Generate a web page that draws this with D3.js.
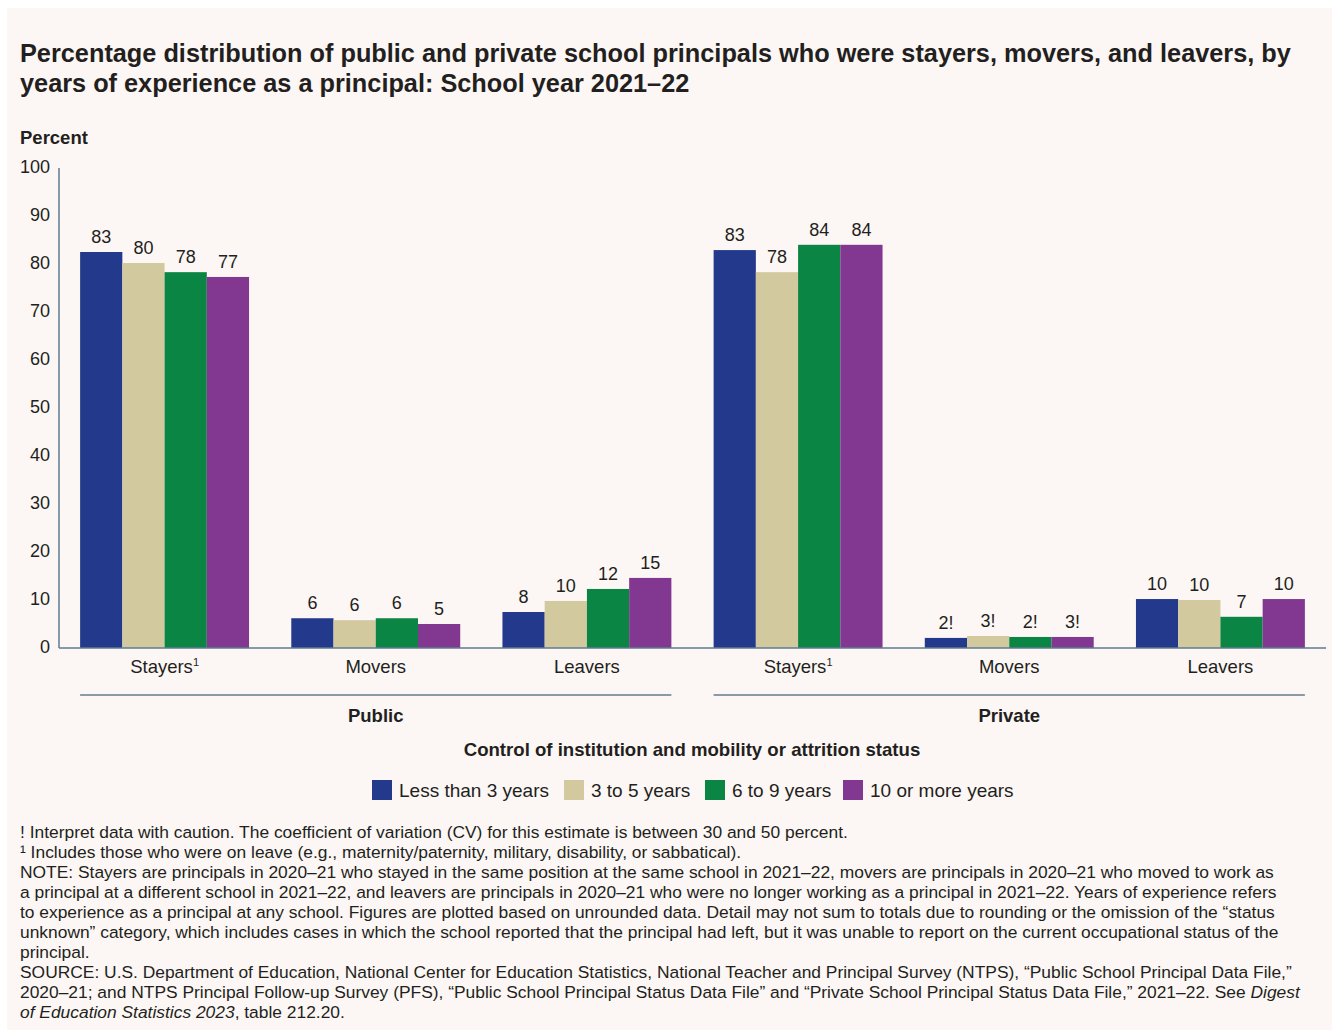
<!DOCTYPE html>
<html>
<head>
<meta charset="utf-8">
<script src="https://cdn.jsdelivr.net/npm/d3@7"></script>
<style>
  html, body { margin: 0; padding: 0; background: #ffffff; }
  svg { display: block; font-family: "Liberation Sans", Arial, sans-serif; }
</style>
</head>
<body>
<div id="app"></div>
<script>
// data
const controls = ["Public", "Private"];
const statuses = ["Stayers", "Movers", "Leavers"];
const experience = ["Less than 3 years", "3 to 5 years", "6 to 9 years", "10 or more years"];
const publicValues = [
  [82.5, 80.2, 78.3, 77.3],
  [6.2, 5.8, 6.2, 5.0],
  [7.5, 9.8, 12.3, 14.6]
];
const privateValues = [
  [82.9, 78.3, 84.0, 84.0],
  [2.1, 2.5, 2.3, 2.3],
  [10.2, 10.0, 6.5, 10.2]
];
const publicLabels = [
  ["83", "80", "78", "77"],
  ["6", "6", "6", "5"],
  ["8", "10", "12", "15"]
];
const privateLabels = [
  ["83", "78", "84", "84"],
  ["2!", "3!", "2!", "3!"],
  ["10", "10", "7", "10"]
];
const yTicks = [0, 10, 20, 30, 40, 50, 60, 70, 80, 90, 100];
const colors = ["#233a8c", "#d3c99f", "#0b8543", "#823891"];

const titleLines = [
  "Percentage distribution of public and private school principals who were stayers, movers, and leavers, by",
  "years of experience as a principal: School year 2021\u201322"
];
const notes = [
  "! Interpret data with caution. The coefficient of variation (CV) for this estimate is between 30 and 50 percent.",
  "\u00b9 Includes those who were on leave (e.g., maternity/paternity, military, disability, or sabbatical).",
  "NOTE: Stayers are principals in 2020\u201321 who stayed in the same position at the same school in 2021\u201322, movers are principals in 2020\u201321 who moved to work as",
  "a principal at a different school in 2021\u201322, and leavers are principals in 2020\u201321 who were no longer working as a principal in 2021\u201322. Years of experience refers",
  "to experience as a principal at any school. Figures are plotted based on unrounded data. Detail may not sum to totals due to rounding or the omission of the \u201cstatus",
  "unknown\u201d category, which includes cases in which the school reported that the principal had left, but it was unable to report on the current occupational status of the",
  "principal.",
  "SOURCE: U.S. Department of Education, National Center for Education Statistics, National Teacher and Principal Survey (NTPS), \u201cPublic School Principal Data File,\u201d",
  "2020\u201321; and NTPS Principal Follow-up Survey (PFS), \u201cPublic School Principal Status Data File\u201d and \u201cPrivate School Principal Status Data File,\u201d 2021\u201322. See "
];

const width = 1333, height = 1030;
const margin = { top: 168, left: 59, right: 7, bottom: 382 };
const textColor = "#231f20";

// flatten into rows for the band scale
const rows = [];
controls.forEach((c, ci) => {
  statuses.forEach((s, si) => {
    rows.push({
      key: c + "-" + s,
      control: c,
      status: s,
      values: ci === 0 ? publicValues[si] : privateValues[si],
      labels: ci === 0 ? publicLabels[si] : privateLabels[si]
    });
  });
});

const svg = d3.select("#app").append("svg").attr("width", width).attr("height", height);

svg.append("rect")
  .attr("x", 7).attr("y", 8)
  .attr("width", width - 8).attr("height", height - 8)
  .attr("fill", "#fcf7f5");

// title
svg.append("g")
  .selectAll("text")
  .data(titleLines)
  .join("text")
  .attr("x", 20)
  .attr("y", (d, i) => 62 + i * 30)
  .attr("fill", textColor)
  .attr("font-weight", 700)
  .attr("font-size", "25.3px")
  .text(d => d);

svg.append("text")
  .attr("x", 20).attr("y", 144)
  .attr("fill", textColor)
  .attr("font-weight", 700)
  .attr("font-size", "18.5px")
  .text("Percent");

const x0 = d3.scaleBand()
  .domain(rows.map(d => d.key))
  .range([margin.left, width - margin.right])
  .paddingInner(0.2)
  .paddingOuter(0.1);

const x1 = d3.scaleBand()
  .domain(experience)
  .range([0, x0.bandwidth()]);

const y = d3.scaleLinear()
  .domain([0, 100])
  .range([height - margin.bottom, margin.top]);

// y axis labels, no ticks
svg.append("g")
  .selectAll("text")
  .data(yTicks)
  .join("text")
  .attr("x", 50)
  .attr("y", d => y(d) + 5)
  .attr("text-anchor", "end")
  .attr("fill", textColor)
  .attr("font-size", "18px")
  .text(d => d);

// bars
const groups = svg.append("g")
  .selectAll("g")
  .data(rows)
  .join("g")
  .attr("transform", d => `translate(${x0(d.key)},0)`);

groups.selectAll("rect")
  .data(d => d.values.map((v, i) => ({ v, i, label: d.labels[i] })))
  .join("rect")
  .attr("x", d => x1(experience[d.i]))
  .attr("y", d => y(d.v))
  .attr("width", x1.bandwidth())
  .attr("height", d => y(0) - y(d.v))
  .attr("fill", d => colors[d.i]);

groups.selectAll("text")
  .data(d => d.values.map((v, i) => ({ v, i, label: d.labels[i] })))
  .join("text")
  .attr("x", d => x1(experience[d.i]) + x1.bandwidth() / 2)
  .attr("y", d => y(d.v) - 9)
  .attr("text-anchor", "middle")
  .attr("fill", textColor)
  .attr("font-size", "18px")
  .text(d => d.label);

// axis lines
svg.append("line")
  .attr("x1", margin.left).attr("x2", margin.left)
  .attr("y1", margin.top).attr("y2", y(0))
  .attr("stroke", "#5e7d90").attr("stroke-width", 1.5);
svg.append("line")
  .attr("x1", margin.left).attr("x2", width - margin.right)
  .attr("y1", y(0)).attr("y2", y(0))
  .attr("stroke", "#5e7d90").attr("stroke-width", 1.5);

// category labels
const catLabels = svg.append("g")
  .selectAll("text")
  .data(rows)
  .join("text")
  .attr("x", d => x0(d.key) + x0.bandwidth() / 2)
  .attr("y", y(0) + 25)
  .attr("text-anchor", "middle")
  .attr("fill", textColor)
  .attr("font-size", "18.5px");
catLabels.append("tspan").text(d => d.status);
catLabels.filter(d => d.status === "Stayers")
  .append("tspan")
  .attr("dy", -7)
  .attr("font-size", "11px")
  .text("1");

// group brackets
controls.forEach(c => {
  const keys = rows.filter(r => r.control === c).map(r => r.key);
  const xa = x0(keys[0]);
  const xb = x0(keys[keys.length - 1]) + x0.bandwidth();
  svg.append("line")
    .attr("x1", xa).attr("x2", xb)
    .attr("y1", y(0) + 47).attr("y2", y(0) + 47)
    .attr("stroke", "#8a9ba6").attr("stroke-width", 2);
  svg.append("text")
    .attr("x", (xa + xb) / 2)
    .attr("y", y(0) + 74)
    .attr("text-anchor", "middle")
    .attr("fill", textColor)
    .attr("font-weight", 700)
    .attr("font-size", "18.5px")
    .text(c);
});

svg.append("text")
  .attr("x", 692).attr("y", 756)
  .attr("text-anchor", "middle")
  .attr("fill", textColor)
  .attr("font-weight", 700)
  .attr("font-size", "18.6px")
  .text("Control of institution and mobility or attrition status");

// legend
const legendX = [372, 564, 705, 843];
const legend = svg.append("g")
  .selectAll("g")
  .data(experience)
  .join("g")
  .attr("transform", (d, i) => `translate(${legendX[i]},780)`);
legend.append("rect")
  .attr("width", 20).attr("height", 20)
  .attr("fill", (d, i) => colors[i]);
legend.append("text")
  .attr("x", 27).attr("y", 17)
  .attr("fill", textColor)
  .attr("font-size", "19px")
  .text(d => d);

// notes
const noteG = svg.append("g")
  .selectAll("text")
  .data(notes)
  .join("text")
  .attr("x", 20)
  .attr("y", (d, i) => 838 + i * 20)
  .attr("fill", textColor)
  .attr("font-size", "17.4px")
  .text(d => d);
noteG.filter((d, i) => i === notes.length - 1)
  .append("tspan")
  .attr("font-style", "italic")
  .text("Digest");

const last = svg.append("text")
  .attr("x", 20)
  .attr("y", 838 + notes.length * 20)
  .attr("fill", textColor)
  .attr("font-size", "17.4px");
last.append("tspan").attr("font-style", "italic").text("of Education Statistics 2023");
last.append("tspan").text(", table 212.20.");
</script>
</body>
</html>
